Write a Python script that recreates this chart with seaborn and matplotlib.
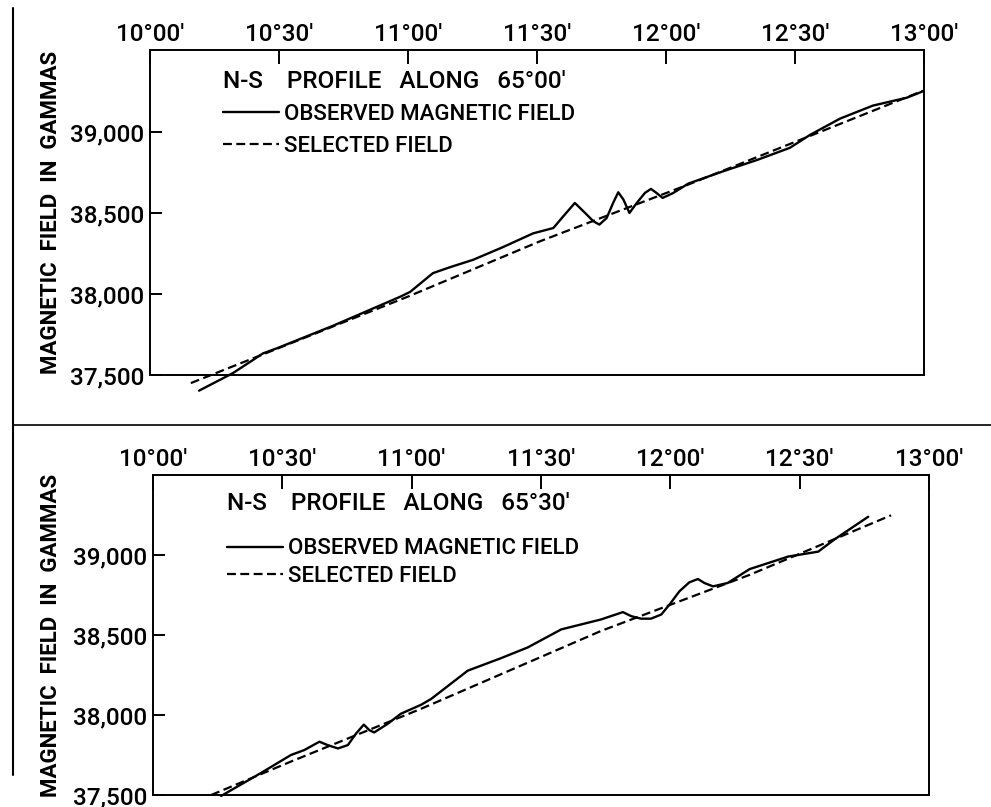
import matplotlib
matplotlib.use("Agg")
import matplotlib.pyplot as plt
from matplotlib.lines import Line2D
import seaborn as sns
import pandas as pd

# ---------------- data ----------------
x_tick_minutes = [0, 30, 60, 90, 120, 150, 180]          # minutes after 10°00'
x_tick_labels = ["10°00'", "10°30'", "11°00'", "11°30'", "12°00'", "12°30'", "13°00'"]
y_ticks = [37500, 38000, 38500, 39000]
y_tick_labels = ["37,500", "38,000", "38,500", "39,000"]
y_label = "MAGNETIC  FIELD  IN  GAMMAS"
legend_observed = "OBSERVED MAGNETIC FIELD"
legend_selected = "SELECTED FIELD"
title_top = "N-S    PROFILE   ALONG   65°00'"
title_bottom = "N-S    PROFILE   ALONG   65°30'"

top_obs_min = [11.4, 19.3, 26.3, 29.5, 42.6, 58.1, 60.5, 65.8, 69.8, 75.1, 82.0, 89.1,
               93.8, 96.1, 98.8, 101.2, 103.1, 104.5, 106.2, 107.7, 108.9, 110.1, 111.5,
               113.2, 115.1, 116.5, 117.8, 119.2, 121.7, 125.2, 133.3, 141.2, 148.8,
               153.5, 160.5, 168.1, 176.0, 179.8]
top_obs_val = [37403, 37512, 37634, 37665, 37805, 37983, 38014, 38130, 38167, 38212, 38290, 38376,
               38409, 38481, 38564, 38502, 38451, 38430, 38471, 38564, 38630, 38585, 38502,
               38564, 38626, 38651, 38626, 38595, 38626, 38684, 38760, 38830, 38905,
               38985, 39086, 39166, 39215, 39255]
top_sel_min = [9.5, 60.0, 90.7, 125.2, 179.8]
top_sel_val = [37450, 37985, 38327, 38678, 39258]

bot_obs_min = [15.8, 25.0, 32.0, 35.1, 38.6, 40.5, 42.9, 45.2, 47.1, 48.9, 50.2, 51.3, 54.5,
               57.5, 62.2, 64.5, 73.0, 80.7, 86.9, 94.7, 103.9, 109.0, 110.9, 113.2, 115.5,
               117.9, 119.8, 122.1, 124.4, 126.4, 127.9, 129.9, 133.3, 138.4, 147.3, 154.3,
               158.0, 165.9]
bot_obs_val = [37494, 37637, 37750, 37781, 37833, 37812, 37791, 37812, 37884, 37940, 37905, 37891, 37946,
               38008, 38064, 38100, 38277, 38355, 38422, 38535, 38597, 38643, 38618, 38602, 38602,
               38628, 38690, 38773, 38829, 38850, 38825, 38804, 38825, 38912, 38990, 39021,
               39096, 39239]
bot_sel_min = [13.5, 32.0, 62.2, 103.9, 138.4, 171.2]
bot_sel_val = [37500, 37709, 38039, 38525, 38876, 39248]

# ---------------- style ----------------
sns.set_theme(style="white")
plt.rcParams.update({
    "font.family": ["Roboto", "DejaVu Sans"],
    "font.weight": "medium",
    "text.color": "black",
    "axes.labelcolor": "black",
    "axes.edgecolor": "black",
    "xtick.color": "black",
    "ytick.color": "black",
    "axes.linewidth": 1.4,
    "figure.facecolor": "white",
    "axes.facecolor": "white",
})

fig = plt.figure(figsize=(9.91, 8.07), dpi=100)

TICK_FS = 17.5
LEG_FS = 16.0
TITLE_FS = 17.5
YLAB_FS = 16.0


def panel(rect, obs_m, obs_v, sel_m, sel_v, ylim, title, title_xy, leg_anchor, leg_spacing, ylab_x):
    ax = fig.add_axes(rect)
    df_obs = pd.DataFrame({"minutes": obs_m, "field": obs_v})
    df_sel = pd.DataFrame({"minutes": sel_m, "field": sel_v})
    sns.lineplot(data=df_obs, x="minutes", y="field", ax=ax, color="black", linewidth=1.7,
                 estimator=None, sort=True, label=legend_observed, clip_on=False)
    sns.lineplot(data=df_sel, x="minutes", y="field", ax=ax, color="black", linewidth=1.6,
                 linestyle=(0, (4, 2)), estimator=None, sort=True, label=legend_selected,
                 clip_on=False)
    ax.set_xlim(0, 180)
    ax.set_ylim(*ylim)
    ax.set_xticks(x_tick_minutes)
    ax.set_xticklabels(x_tick_labels, fontweight="medium")
    ax.set_yticks(y_ticks)
    ax.set_yticklabels(y_tick_labels, fontweight="medium")
    ax.xaxis.tick_top()
    ax.tick_params(axis="x", direction="in", length=10, width=1.4, pad=3, labelsize=TICK_FS,
                   top=True, bottom=False, labeltop=True, labelbottom=False)
    ax.tick_params(axis="y", direction="in", length=8.5, width=1.4, pad=4, labelsize=TICK_FS,
                   left=True, right=False)
    ax.set_xlabel("")
    ax.set_ylabel(y_label, fontsize=YLAB_FS, fontweight="bold")
    ax.yaxis.set_label_coords(ylab_x, 0.5)
    for s in ax.spines.values():
        s.set_color("black")
        s.set_linewidth(1.4)
    ax.grid(False)
    ax.text(title_xy[0], title_xy[1], title, transform=ax.transAxes, fontsize=TITLE_FS,
            fontweight="medium", ha="left", va="baseline")
    ax.legend(loc="upper left", bbox_to_anchor=leg_anchor, frameon=False, borderpad=0,
              borderaxespad=0, handlelength=2.5, handletextpad=0.25,
              labelspacing=leg_spacing, prop={"size": LEG_FS, "weight": "medium"})
    return ax


ax_top = panel([150 / 991, 1 - 375 / 807, 774 / 991, 325 / 807],
               top_obs_min, top_obs_val, top_sel_min, top_sel_val,
               (37500, 39510), title_top, ((223 - 150) / 774, (375 - 88) / 325),
               ((223 - 150) / 774, (375 - 103.5) / 325), 0.52, -0.114)

ax_bot = panel([153 / 991, 1 - 795 / 807, 776 / 991, 320 / 807],
               bot_obs_min, bot_obs_val, bot_sel_min, bot_sel_val,
               (37500, 39500), title_bottom, ((227 - 153) / 776, (795 - 510) / 320),
               ((227 - 153) / 776, (795 - 538.5) / 320), 0.30, -0.117)

# frame lines of the original plate
fig.add_artist(Line2D([12.5 / 991, 12.5 / 991], [1 - 8 / 807, 1 - 775 / 807],
                      transform=fig.transFigure, color="black", linewidth=1.5))
fig.add_artist(Line2D([12.5 / 991, 1.0], [1 - 425 / 807, 1 - 425 / 807],
                      transform=fig.transFigure, color="black", linewidth=1.2))

fig.savefig("out.png", dpi=100)
